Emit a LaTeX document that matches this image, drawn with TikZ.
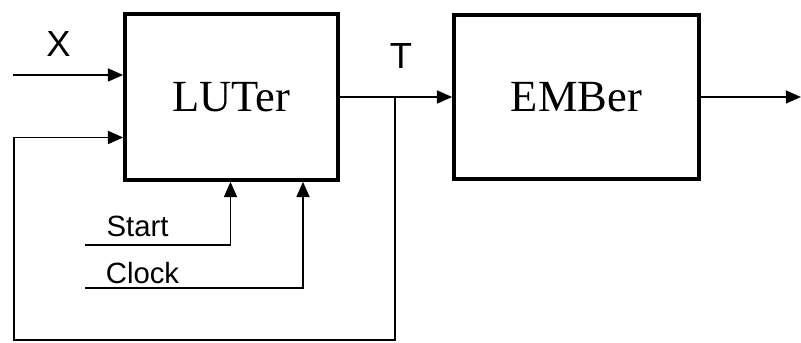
\documentclass[tikz,border=0pt]{standalone}
\usepackage{fontspec}
\setmainfont{Liberation Serif}
\setsansfont{Liberation Sans}
\usetikzlibrary{arrows.meta, positioning}

\begin{document}
\begin{tikzpicture}[
  x=0.03cm, y=-0.03cm,
  blk/.style={draw, line width=3.4pt, inner sep=0pt, minimum width=6.38cm, minimum height=4.97cm, font=\fontsize{38}{42}\selectfont},
  sig/.style={inner sep=0pt, font=\sffamily\fontsize{31}{35}\selectfont},
  ctl/.style={inner sep=0pt, font=\sffamily\fontsize{25}{29}\selectfont},
  wire/.style={line width=1.7pt},
  arr/.style={wire, -{Triangle[length=13pt, width=11pt]}}
]
\useasboundingbox (0,0) rectangle (801,343);

% the two blocks
\node[blk] (luter) at (231.5,97) {LUTer};
\node[blk, minimum width=7.34cm, minimum height=4.94cm] (ember) at (576.5,97) {EMBer};

% labels
\node[sig] (xlbl) at (58.5,44) {X};
\node[sig] (tlbl) at (401,56) {T};
\node[ctl] (startlbl) at (137.5,226) {Start};
\node[ctl] (clocklbl) at (142.5,273) {Clock};

% wire ends and bends
\coordinate (xin) at (13,75);
\coordinate (tap) at (395,97);
\coordinate (fbleft) at (14,340);
\coordinate (fbin) at (14,137.5);
\coordinate (out) at (801,97);
\coordinate (st) at (85,245);
\coordinate (stturn) at (230.5,245);
\coordinate (clk) at (85,288);
\coordinate (clkturn) at (303,288);

\draw[arr] (xin) -- (xin -| luter.west);
\draw[arr] (luter.east) -- (luter.east -| ember.west);
\draw[arr] (ember.east) -- (out);
\draw[arr] (tap) |- (fbleft) -- (fbin) -- (fbin -| luter.west);
\draw[arr] (st) -- (stturn) -- (stturn |- luter.south);
\draw[arr] (clk) -- (clkturn) -- (clkturn |- luter.south);
\end{tikzpicture}
\end{document}
